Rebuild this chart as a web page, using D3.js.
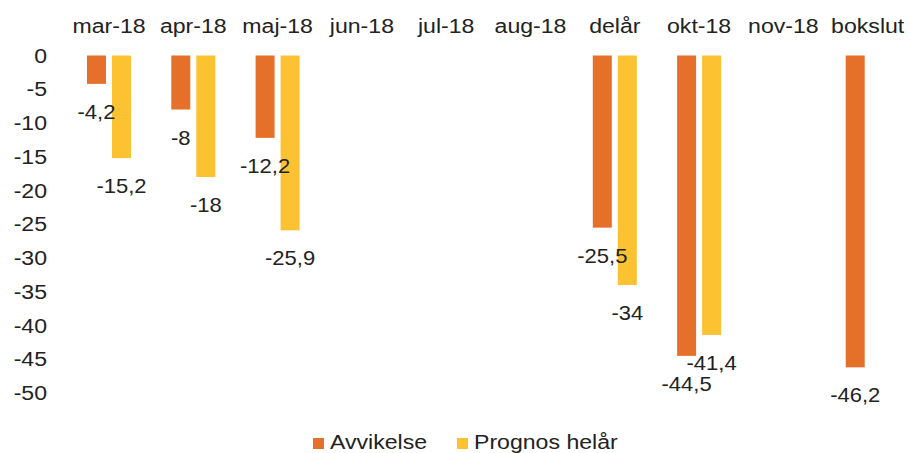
<!DOCTYPE html>
<html>
<head>
<meta charset="utf-8">
<script src="https://cdn.jsdelivr.net/npm/d3@7"></script>
<style>
  html, body { margin: 0; padding: 0; background: #fff; }
  svg text { font-family: "Liberation Sans", Arial, sans-serif; fill: #222; }
</style>
</head>
<body>
<div id="chart"></div>
<script>
// chart data
var categories = ["mar-18", "apr-18", "maj-18", "jun-18", "jul-18", "aug-18", "delår", "okt-18", "nov-18", "bokslut"];
var avvikelse = [-4.2, -8, -12.2, null, null, null, -25.5, -44.5, null, -46.2];
var prognos = [-15.2, -18, -25.9, null, null, null, -34, -41.4, null, null];
var seriesNames = ["Avvikelse", "Prognos helår"];
var yTicks = [0, -5, -10, -15, -20, -25, -30, -35, -40, -45, -50];

var width = 910, height = 453;
var colors = { "Avvikelse": "#e4702a", "Prognos helår": "#fdc232" };
var SX = 1.1; // scan is a bit wider than tall

var rows = categories.map(function(c, i) {
    return { cat: c, values: [
        { name: seriesNames[0], value: avvikelse[i] },
        { name: seriesNames[1], value: prognos[i] }
    ].filter(function(d) { return d.value !== null; }) };
});

var svg = d3.select("#chart").append("svg")
    .attr("width", width)
    .attr("height", height);

var x0 = d3.scaleBand()
    .domain(categories)
    .range([66.85, 909.85])
    .padding(0);

var x1 = d3.scaleBand()
    .domain(seriesNames)
    .range([0, x0.bandwidth()])
    .paddingInner(0.24)
    .paddingOuter(0.806);

var y = d3.scaleLinear()
    .domain([-50, 0])
    .range([393, 55.5]);

function fmt(v) { return String(v).replace(".", ","); }

function stretch(sel) {
    sel.each(function() {
        var t = d3.select(this);
        var tx = +t.attr("x") || 0, ty = +t.attr("y") || 0;
        t.attr("x", 0).attr("y", 0)
            .attr("transform", "translate(" + tx + "," + ty + ") scale(" + SX + ",1)");
    });
}

// y axis, labels only
var yAxis = svg.append("g")
    .attr("transform", "translate(50,0)")
    .call(d3.axisLeft(y).tickValues(yTicks).tickSize(0).tickPadding(3).tickFormat(function(d) { return String(d); }));
yAxis.select(".domain").remove();
yAxis.selectAll("text")
    .attr("font-size", 21)
    .attr("fill", "#222")
    .style("font-family", null);
stretch(yAxis.selectAll("text"));

// category labels on top
svg.append("g").selectAll("text")
    .data(categories)
    .enter().append("text")
    .attr("x", function(d) { return x0(d) + x0.bandwidth() / 2; })
    .attr("y", 33)
    .attr("text-anchor", "middle")
    .attr("font-size", 21)
    .text(function(d) { return d; })
    .call(stretch);

// bars
var groups = svg.append("g").selectAll("g")
    .data(rows)
    .enter().append("g")
    .attr("transform", function(d) { return "translate(" + x0(d.cat) + ",0)"; });

groups.selectAll("rect")
    .data(function(d) { return d.values; })
    .enter().append("rect")
    .attr("x", function(d) { return x1(d.name); })
    .attr("y", y(0))
    .attr("width", x1.bandwidth())
    .attr("height", function(d) { return y(d.value) - y(0); })
    .attr("fill", function(d) { return colors[d.name]; });

groups.selectAll("text")
    .data(function(d) { return d.values; })
    .enter().append("text")
    .attr("x", function(d) { return x1(d.name) + x1.bandwidth() / 2; })
    .attr("y", function(d) { return y(d.value) + 35; })
    .attr("text-anchor", "middle")
    .attr("font-size", 20)
    .text(function(d) { return fmt(d.value); })
    .call(stretch);

// legend
var legendPos = [313, 457];
var legend = svg.append("g").selectAll("g")
    .data(seriesNames)
    .enter().append("g")
    .attr("transform", function(d, i) { return "translate(" + legendPos[i] + ",0)"; });
legend.append("rect")
    .attr("y", 438)
    .attr("width", 11)
    .attr("height", 11)
    .attr("fill", function(d) { return colors[d]; });
legend.append("text")
    .attr("x", 17)
    .attr("y", 449)
    .attr("font-size", 21)
    .text(function(d) { return d; })
    .call(stretch);
</script>
</body>
</html>
